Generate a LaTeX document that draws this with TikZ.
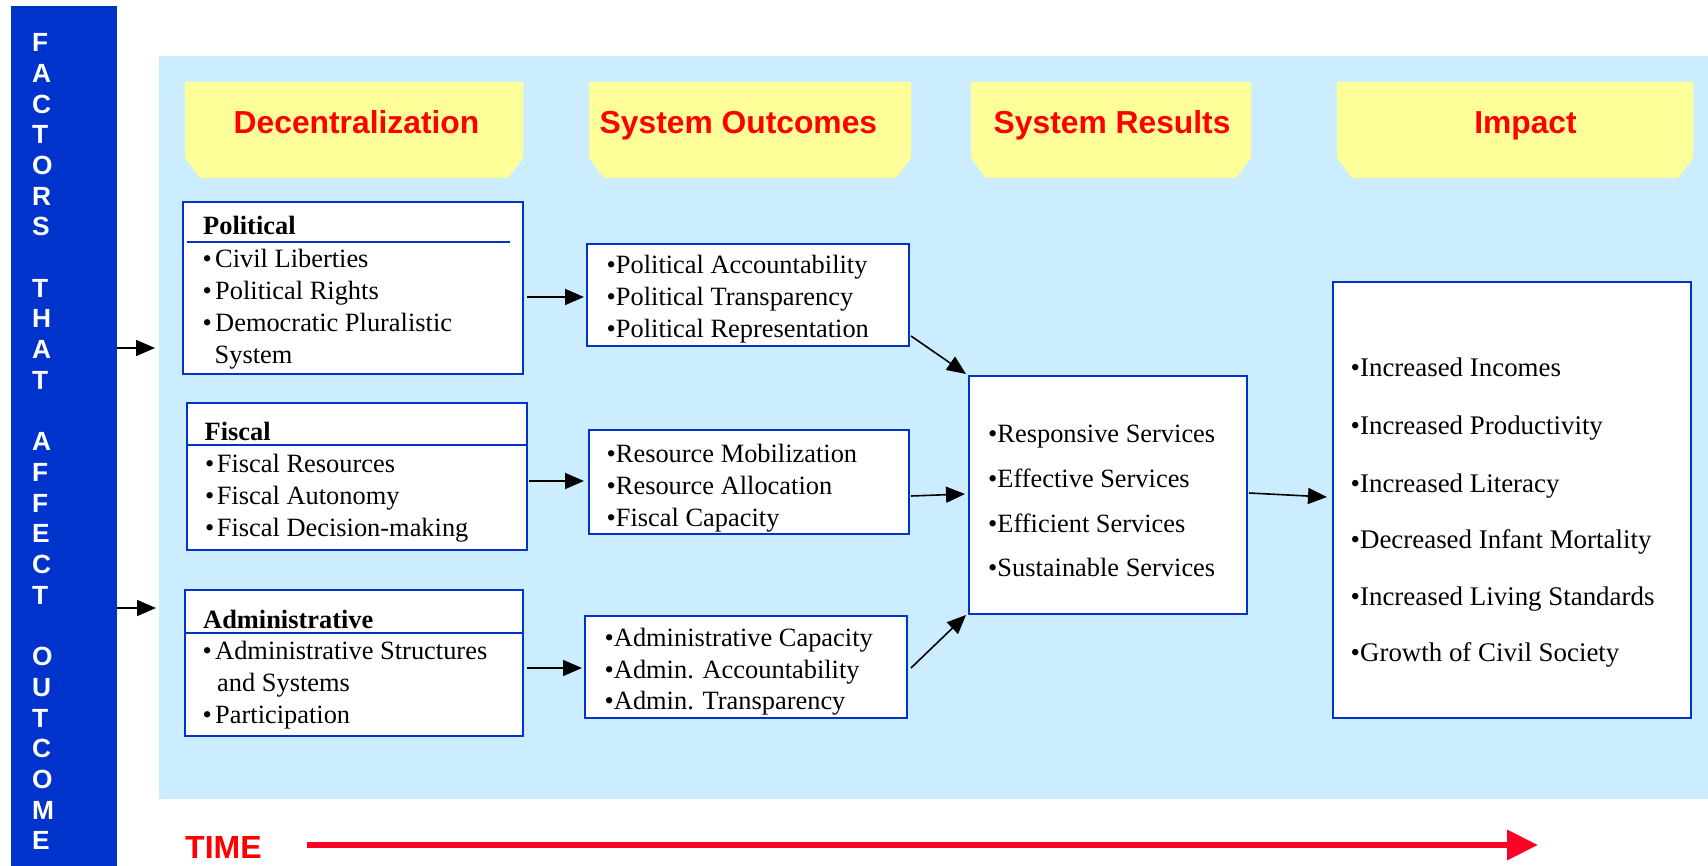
\documentclass[tikz,border=0pt]{standalone}
\usepackage{fontspec}
\setmainfont{Liberation Serif}
\newfontfamily\hsans{Liberation Sans}
\usetikzlibrary{arrows.meta,calc}
\definecolor{barblue}{RGB}{0,51,204}
\definecolor{bglight}{RGB}{204,236,255}
\definecolor{hdyellow}{RGB}{255,255,153}
\definecolor{hdred}{RGB}{255,0,0}
\definecolor{timered}{RGB}{255,0,38}
\begin{document}
\begin{tikzpicture}[x=1pt,y=-1pt,
  box/.style={draw=barblue, line width=2pt, fill=white, rectangle, inner sep=0pt},
  itm/.style={anchor=base west, inner sep=0pt, font=\fontsize{26.4}{32}\selectfont},
  itmb/.style={anchor=base west, inner sep=0pt, font=\fontsize{26.9}{32}\selectfont},
  ttl/.style={anchor=base west, inner sep=0pt, font=\fontsize{26.4}{32}\selectfont\bfseries},
  hdtxt/.style={inner sep=0pt, text=hdred, font=\hsans\bfseries\fontsize{31.8}{38}\selectfont},
  barletter/.style={anchor=base west, inner sep=0pt, text=white, font=\hsans\bfseries\fontsize{26.3}{30}\selectfont},
  arr/.style={line width=1.6pt, -{Triangle[length=19pt,width=16pt]}},
  rule/.style={draw=barblue, line width=2pt}
]
\useasboundingbox (0,0) rectangle (1708,866);
% background panel and side bar
\node[fill=bglight, inner sep=0pt, minimum width=1549pt, minimum height=743pt] (bg) at (933.5,427.5) {};
\node[fill=barblue, inner sep=0pt, minimum width=106pt, minimum height=860pt] (bar) at (64,436) {};
\foreach \l/\k in {F/0,A/1,C/2,T/3,O/4,R/5,S/6,T/8,H/9,A/10,T/11,A/13,F/14,F/15,E/16,C/17,T/18,O/20,U/21,T/22,C/23,O/24,M/25,E/26}
  \node[barletter] (L\k) at (32,{51.7+30.7*\k}) {\l};
% headers
\foreach \xa/\xb in {185/523, 589/911, 971/1251, 1337/1693}
  \fill[hdyellow] (\xa,82) -- (\xb,82) -- (\xb,158) -- ({\xb-15},178) -- ({\xa+15},178) -- (\xa,158) -- cycle;
\node[hdtxt, anchor=base] (h1) at (356.5,134) {Decentralization};
\node[hdtxt, anchor=base west] (h2) at (599.5,134) {System Outcomes};
\node[hdtxt, anchor=base west] (h3) at (993.5,134) {System Results};
\node[hdtxt, anchor=base] (h4) at (1525.5,134) {Impact};
% boxes
\node[box, minimum width=340pt, minimum height=172pt] (pol) at (353,288) {};
\node[box, minimum width=340pt, minimum height=147pt] (fis) at (357,476.5) {};
\node[box, minimum width=338pt, minimum height=146pt] (adm) at (354,663) {};
\node[box, minimum width=322pt, minimum height=102pt] (polo) at (748,295) {};
\node[box, minimum width=320pt, minimum height=104pt] (reso) at (749,482) {};
\node[box, minimum width=322pt, minimum height=102pt] (admo) at (746,667) {};
\node[box, minimum width=278pt, minimum height=238pt] (res) at (1108,495) {};
\node[box, minimum width=358pt, minimum height=436pt] (imp) at (1512,500) {};
% heading rules
\draw[rule] (187,242) -- (510,242);
\draw[rule] ($(fis.north west)+(0,43)$) -- ($(fis.north east)+(0,43)$);
\draw[rule] ($(adm.north west)+(0,44)$) -- ($(adm.north east)+(0,44)$);
% political
\node[ttl] (polt) at (203,235) {Political};
\node[itm] (pol1) at (202.3,268) {•\kern3.5pt Civil Liberties};
\node[itm] (pol2) at (202.3,300) {•\kern3.5pt Political Rights};
\node[itm] (pol3) at (202.3,332) {•\kern3.5pt Democratic Pluralistic};
\node[itm] (pol4) at (214.5,364) {System};
% fiscal
\node[ttl] (fist) at (204.5,440) {Fiscal};
\node[itm] (fis1) at (205,472) {•\kern2.5pt Fiscal Resources};
\node[itm] (fis2) at (205,504) {•\kern2.5pt Fiscal Autonomy};
\node[itm] (fis3) at (205,536) {•\kern2.5pt Fiscal Decision-making};
% administrative
\node[ttl] (admt) at (203,628.3) {Administrative};
\node[itm] (adm1) at (202.3,659.3) {•\kern3.5pt Administrative Structures};
\node[itm] (adm2) at (217,691.7) {and Systems};
\node[itm] (adm3) at (202.3,723.3) {•\kern3.5pt Participation};
% system outcomes
\node[itm] (polo1) at (606.5,274) {•Political Accountability};
\node[itm] (polo2) at (606.5,306) {•Political Transparency};
\node[itm] (polo3) at (606.5,338) {•Political Representation};
\node[itm] (reso1) at (606.5,462) {•Resource Mobilization};
\node[itm] (reso2) at (606.5,494) {•Resource Allocation};
\node[itm] (reso3) at (606.5,526) {•Fiscal Capacity};
\node[itm] (admo1) at (604.5,646.5) {•Administrative Capacity};
\node[itm] (admo2) at (604.5,678) {•Admin. Accountability};
\node[itm] (admo3) at (604.5,709.5) {•Admin. Transparency};
% system results
\node[itm] (res1) at (988,442) {•Responsive Services};
\node[itm] (res2) at (988,487.5) {•Effective Services};
\node[itm] (res3) at (988,532) {•Efficient Services};
\node[itm] (res4) at (988,576) {•Sustainable Services};
% impact
\node[itmb] (imp1) at (1350.5,377) {•Increased Incomes};
\node[itmb] (imp2) at (1350.5,434) {•Increased Productivity};
\node[itmb] (imp3) at (1350.5,492.5) {•Increased Literacy};
\node[itmb] (imp4) at (1350.5,548.5) {•Decreased Infant Mortality};
\node[itmb] (imp5) at (1350.5,605.5) {•Increased Living Standards};
\node[itmb] (imp6) at (1350.5,661.5) {•Growth of Civil Society};
% arrows
\coordinate (a1) at (155,348);
\coordinate (a2) at (156,608);
\draw[arr] (bar.east |- a1) -- (a1);
\draw[arr] (bar.east |- a2) -- (a2);
\draw[arr] ($(pol.east)+(3,9)$) -- ($(polo.west)+(-2,2)$);
\draw[arr] ($(fis.east)+(1,4.5)$) -- ($(reso.west)+(-4,-1)$);
\draw[arr] ($(adm.east)+(3,5)$) -- ($(admo.west)+(-2,1)$);
\draw[arr] ($(polo.east)+(1,41)$) -- ($(res.north west)+(-2,-1)$);
\draw[arr] ($(reso.east)+(1,14)$) -- ($(res.west)+(-3,-1)$);
\draw[arr] ($(admo.east)+(3,1)$) -- ($(res.south west)+(-2,0)$);
\draw[arr] ($(res.east)+(1,-2)$) -- ($(imp.west)+(-5,-3)$);
% time
\node[anchor=base west, inner sep=0pt, text=hdred, font=\hsans\bfseries\fontsize{32}{38}\selectfont] (time) at (185,858) {TIME};
\coordinate (tstart) at (307,845);
\coordinate (tend) at (1538,845);
\draw[timered, line width=6.5pt, -{Triangle[length=31pt,width=29pt]}] (tstart) -- (tend);
\end{tikzpicture}
\end{document}
